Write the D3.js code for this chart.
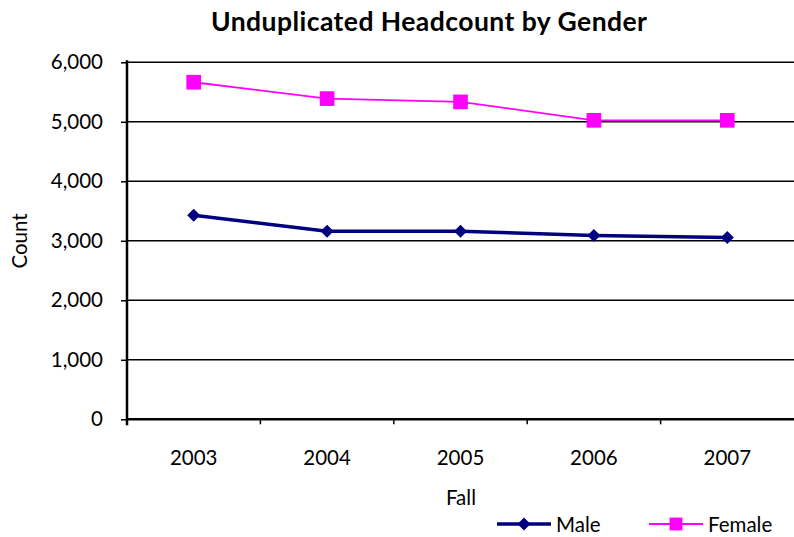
<!DOCTYPE html>
<html>
<head>
<meta charset="utf-8">
<script src="https://cdn.jsdelivr.net/npm/d3@7"></script>
<style>
  body { margin: 0; background: #fff; }
  text { font-family: "Lato", "Open Sans", sans-serif; }
</style>
</head>
<body>
<svg width="794" height="537"></svg>
<script>
const years = ["2003", "2004", "2005", "2006", "2007"];
const male = [3430, 3160, 3160, 3090, 3055];
const female = [5665, 5390, 5335, 5025, 5025];
const yTicks = [0, 1000, 2000, 3000, 4000, 5000, 6000];

const width = 794, height = 537;
const margin = {left: 127, right: 0, top: 62, bottom: 118};

const svg = d3.select("svg");

const x = d3.scaleBand()
  .domain(years)
  .range([margin.left, width - margin.right]);

const y = d3.scaleLinear()
  .domain([0, 6000])
  .range([height - margin.bottom + 0.3, margin.top + 0.3]);

// gridlines
svg.append("g")
  .selectAll("line")
  .data(yTicks.filter(d => d > 0))
  .join("line")
  .attr("x1", margin.left)
  .attr("x2", width)
  .attr("y1", d => y(d))
  .attr("y2", d => y(d))
  .attr("stroke", "#000")
  .attr("stroke-width", 1.5);

// y axis
const yAxis = svg.append("g")
  .attr("transform", `translate(${margin.left},0)`)
  .call(d3.axisLeft(y).tickValues(yTicks).tickSize(6).tickPadding(18)
    .tickFormat(d3.format(",")));
yAxis.select(".domain").remove();
yAxis.selectAll(".tick line").attr("stroke-width", 1.5);
yAxis.selectAll("text").attr("font-size", 20.5).attr("fill", "#000");
yAxis.append("line")
  .attr("x1", 0).attr("x2", 0)
  .attr("y1", y(6000) - 2).attr("y2", y(0) + 6)
  .attr("stroke", "#000").attr("stroke-width", 2.5);

// x axis
const xAxis = svg.append("g")
  .attr("transform", `translate(0,${y(0)})`)
  .call(d3.axisBottom(x).tickSize(0).tickPadding(31));
xAxis.select(".domain").remove();
xAxis.selectAll("text").attr("font-size", 20.5).attr("fill", "#000");
xAxis.append("line")
  .attr("x1", margin.left).attr("x2", width)
  .attr("stroke", "#000").attr("stroke-width", 2.5);
xAxis.selectAll(".edge")
  .data(years.slice(1))
  .join("line")
  .attr("x1", d => x(d)).attr("x2", d => x(d))
  .attr("y1", 0).attr("y2", 5)
  .attr("stroke", "#000").attr("stroke-width", 1.5);

const cx = d => x(d) + x.bandwidth() / 2;

// female series
const line = d3.line().x((d, i) => cx(years[i])).y(d => y(d));
svg.append("path")
  .datum(female)
  .attr("d", line)
  .attr("fill", "none")
  .attr("stroke", "#ff00ff")
  .attr("stroke-width", 1.8);
svg.append("g")
  .selectAll("path")
  .data(female)
  .join("path")
  .attr("transform", (d, i) => `translate(${cx(years[i])},${y(d)})`)
  .attr("d", d3.symbol(d3.symbolSquare, 215))
  .attr("fill", "#ff00ff");

// male series
svg.append("path")
  .datum(male)
  .attr("d", line)
  .attr("fill", "none")
  .attr("stroke", "#000080")
  .attr("stroke-width", 3.4);
svg.append("g")
  .selectAll("path")
  .data(male)
  .join("path")
  .attr("transform", (d, i) => `translate(${cx(years[i])},${y(d)}) rotate(45)`)
  .attr("d", d3.symbol(d3.symbolSquare, 85))
  .attr("fill", "#000080");

// title and axis labels
svg.append("text")
  .attr("x", 429).attr("y", 31)
  .attr("text-anchor", "middle")
  .attr("font-size", 26.5).attr("font-weight", "bold")
  .attr("textLength", 436).attr("lengthAdjust", "spacing")
  .text("Unduplicated Headcount by Gender");

svg.append("text")
  .attr("transform", "translate(27,241) rotate(-90)")
  .attr("text-anchor", "middle")
  .attr("font-size", 20.5)
  .text("Count");

svg.append("text")
  .attr("x", 461).attr("y", 505)
  .attr("text-anchor", "middle")
  .attr("font-size", 20.5)
  .text("Fall");

// legend
const legend = [
  {name: "Male", color: "#000080", w: 3.4, sym: d3.symbol(d3.symbolSquare, 85), rot: 45, x0: 497},
  {name: "Female", color: "#ff00ff", w: 1.8, sym: d3.symbol(d3.symbolSquare, 165), rot: 0, x0: 649}
];
const lg = svg.append("g").selectAll("g").data(legend).join("g")
  .attr("transform", d => `translate(${d.x0},524)`);
lg.append("line")
  .attr("x1", 0).attr("x2", 54)
  .attr("stroke", d => d.color).attr("stroke-width", d => d.w);
lg.append("path")
  .attr("transform", d => `translate(27,0) rotate(${d.rot})`)
  .attr("d", d => d.sym())
  .attr("fill", d => d.color);
lg.append("text")
  .attr("x", 59).attr("y", 8)
  .attr("font-size", 20.5)
  .text(d => d.name);
</script>
</body>
</html>
